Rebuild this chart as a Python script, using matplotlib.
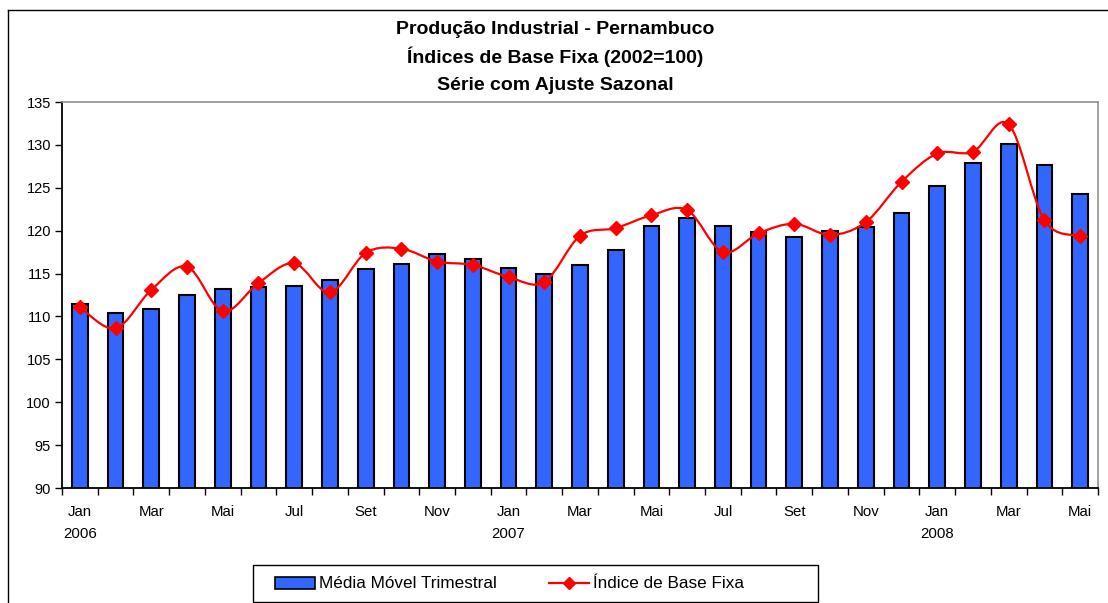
import matplotlib
matplotlib.use('Agg')
import matplotlib.pyplot as plt
from matplotlib.path import Path
from matplotlib.patches import PathPatch, Patch, Rectangle
from matplotlib.lines import Line2D

plt.rcParams['font.family'] = ['Liberation Sans', 'DejaVu Sans']

# dados (jan/2006 a mai/2008)
meses = ['Jan', 'Fev', 'Mar', 'Abr', 'Mai', 'Jun', 'Jul', 'Ago', 'Set', 'Out', 'Nov', 'Dez'] * 2 \
    + ['Jan', 'Fev', 'Mar', 'Abr', 'Mai']
anos = ['2006'] * 12 + ['2007'] * 12 + ['2008'] * 5

media_movel = [111.4, 110.4, 110.9, 112.5, 113.2, 113.4, 113.5, 114.3, 115.5, 116.1,
               117.3, 116.7, 115.7, 114.9, 116.0, 117.8, 120.5, 121.5, 120.6, 119.9,
               119.3, 120.0, 120.4, 122.1, 125.2, 127.9, 130.1, 127.6, 124.3]
indice = [111.1, 108.6, 113.1, 115.8, 110.6, 113.9, 116.2, 112.8, 117.4, 117.9,
          116.4, 116.0, 114.6, 114.0, 119.4, 120.3, 121.8, 122.4, 117.5, 119.7,
          120.8, 119.5, 121.0, 125.7, 129.0, 129.2, 132.4, 121.2, 119.4]

titulo = ['Produção Industrial - Pernambuco',
          'Índices de Base Fixa (2002=100)',
          'Série com Ajuste Sazonal']


def suavizar(xs, ys):
    # curva suave tipo Excel (Catmull-Rom em Bezier)
    n = len(xs)
    verts = [(xs[0], ys[0])]
    codes = [Path.MOVETO]
    for i in range(n - 1):
        x0, y0 = (xs[i - 1], ys[i - 1]) if i > 0 else (xs[i], ys[i])
        x1, y1 = xs[i], ys[i]
        x2, y2 = xs[i + 1], ys[i + 1]
        x3, y3 = (xs[i + 2], ys[i + 2]) if i + 2 < n else (x2, y2)
        verts += [(x1 + (x2 - x0) / 6, y1 + (y2 - y0) / 6),
                  (x2 - (x3 - x1) / 6, y2 - (y3 - y1) / 6),
                  (x2, y2)]
        codes += [Path.CURVE4] * 3
    return Path(verts, codes)


W, H = 1108, 603
fig = plt.figure(figsize=(W / 100, H / 100), dpi=100)
ax = fig.add_axes([62 / W, 1 - 488 / H, (1098 - 62) / W, (488 - 102) / H])

x = list(range(len(meses)))
azul = '#3366FF'
ax.bar(x, media_movel, width=0.44, color=azul, edgecolor='black', linewidth=1.5, zorder=2)
ax.add_patch(PathPatch(suavizar(x, indice), facecolor='none', edgecolor='red', linewidth=1.6, zorder=3))
ax.plot(x, indice, linestyle='none', marker='D', markersize=7.5, color='red', zorder=4)

ax.set_xlim(-0.5, len(meses) - 0.5)
ax.set_ylim(90, 135)
ax.set_yticks(range(90, 136, 5))
ax.tick_params(axis='y', direction='out', length=5, width=1, labelsize=10.5, pad=3)

rotulos = []
pos = []
for i in range(0, len(meses), 2):
    pos.append(i)
    if meses[i] == 'Jan':
        rotulos.append(meses[i] + '\n' + anos[i])
    else:
        rotulos.append(meses[i])
ax.set_xticks(pos)
ax.set_xticklabels(rotulos, linespacing=1.7)
ax.set_xticks([i - 0.5 for i in range(len(meses) + 1)], minor=True)
ax.tick_params(axis='x', which='major', length=0, labelsize=10.8, pad=12.5)
ax.tick_params(axis='x', which='minor', direction='out', length=5, width=1)

for s in ['left', 'bottom']:
    ax.spines[s].set_color('black')
    ax.spines[s].set_linewidth(1.3)
for s in ['top', 'right']:
    ax.spines[s].set_color('#909090')
    ax.spines[s].set_linewidth(1.2)

for t, yy in zip(titulo, [30, 57, 85]):
    fig.text(555 / W, 1 - yy / H, t, ha='center', va='center', fontsize=14, fontweight='bold')

# moldura externa
fig.add_artist(Line2D([8 / W, 8 / W], [0, 1 - 10 / H], transform=fig.transFigure, color='black', lw=1))
fig.add_artist(Line2D([8 / W, 1], [1 - 10 / H, 1 - 10 / H], transform=fig.transFigure, color='black', lw=1))

# legenda (caixa desenhada a parte)
fig.add_artist(Rectangle((253 / W, 1 / H), 565 / W, 37 / H, fill=False, edgecolor='black',
                         linewidth=1, transform=fig.transFigure))
h1 = Patch(facecolor=azul, edgecolor='black', linewidth=1.2)
h2 = Line2D([], [], color='red', marker='D', markersize=6.5, linewidth=1.6)
leg = fig.legend([h1, h2], ['Média Móvel Trimestral', 'Índice de Base Fixa'],
                 loc='center left', bbox_to_anchor=(275 / W, 1 - 584 / H), ncol=2,
                 frameon=False, fontsize=12.3,
                 columnspacing=3.0, handlelength=2.35, handletextpad=0.25,
                 borderpad=0, borderaxespad=0)

fig.savefig('out.png', dpi=100)
